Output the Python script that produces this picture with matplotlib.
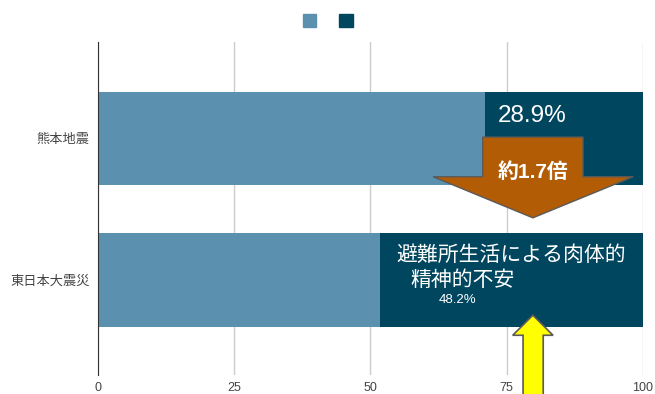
import matplotlib
matplotlib.use('Agg')
import matplotlib.pyplot as plt
from matplotlib.patches import Patch, Polygon

plt.rcParams['font.family'] = ['Liberation Sans', 'Noto Sans CJK JP', 'DejaVu Sans']

categories = ['熊本地震', '東日本大震災']
other = [71.1, 51.8]
anxiety = [28.9, 48.2]
light = '#5B91AF'
dark = '#00465F'

fig = plt.figure(figsize=(6.55, 3.94), dpi=100)
ax = fig.add_axes([0.1496, 0.048, 0.832, 0.845])

pos = list(range(len(categories)))
ax.barh(pos, other, height=0.66, color=light)
ax.barh(pos, anxiety, left=other, height=0.66, color=dark)

ax.set_xlim(0, 100)
ax.set_ylim(1.67, -0.68)
ax.set_yticks(pos)
ax.set_yticklabels(categories, fontsize=9.5, color='#444444')
ax.set_xticks([0, 25, 50, 75, 100])
ax.tick_params(axis='x', labelsize=9, colors='#444444', length=0, pad=5)
ax.tick_params(axis='y', length=0, pad=6)
ax.grid(axis='x', color='#cccccc', linewidth=1)
ax.set_axisbelow(True)
for s in ['top', 'right', 'bottom']:
    ax.spines[s].set_visible(False)
ax.spines['left'].set_color('#333333')

# percentage labels
ax.text(other[0] + 2.3, -0.16, f'{anxiety[0]}%', color='white', fontsize=17.5,
        va='center', ha='left')
ax.text(54.8, 0.82, '避難所生活による肉体的', color='white', fontsize=15,
        va='center', ha='left')
ax.text(57.3, 1.0, '精神的不安', color='white', fontsize=15,
        va='center', ha='left')
ax.text(66, 1.14, f'{anxiety[1]}%', color='white', fontsize=9.5,
        va='center', ha='center')

# brown down arrow
brown = Polygon([(70.6, -0.01), (89.0, -0.01), (89.0, 0.27), (98.2, 0.27),
                 (79.8, 0.56), (61.5, 0.27), (70.6, 0.27)], closed=True,
                facecolor='#B35C06', edgecolor='#5a5a5a', linewidth=1, zorder=5)
ax.add_patch(brown)
ax.text(79.8, 0.24, '約1.7倍', color='white', fontsize=15, fontweight='bold',
        ha='center', va='center', zorder=6)

# yellow up arrow
yellow = Polygon([(79.8, 1.247), (83.5, 1.389), (81.7, 1.389), (81.7, 1.9),
                  (78.0, 1.9), (78.0, 1.389), (76.1, 1.389)], closed=True,
                 facecolor='#FFFF00', edgecolor='#5a5a5a', linewidth=1.2,
                 zorder=5, clip_on=False)
ax.add_patch(yellow)

handles = [Patch(color=light), Patch(color=dark)]
fig.legend(handles, ['', ''], loc='upper center', bbox_to_anchor=(0.5, 0.995),
           ncol=2, frameon=False, handlelength=1, handleheight=1,
           handletextpad=0, columnspacing=1.6, fontsize=10)

fig.savefig('out.png', dpi=100)
